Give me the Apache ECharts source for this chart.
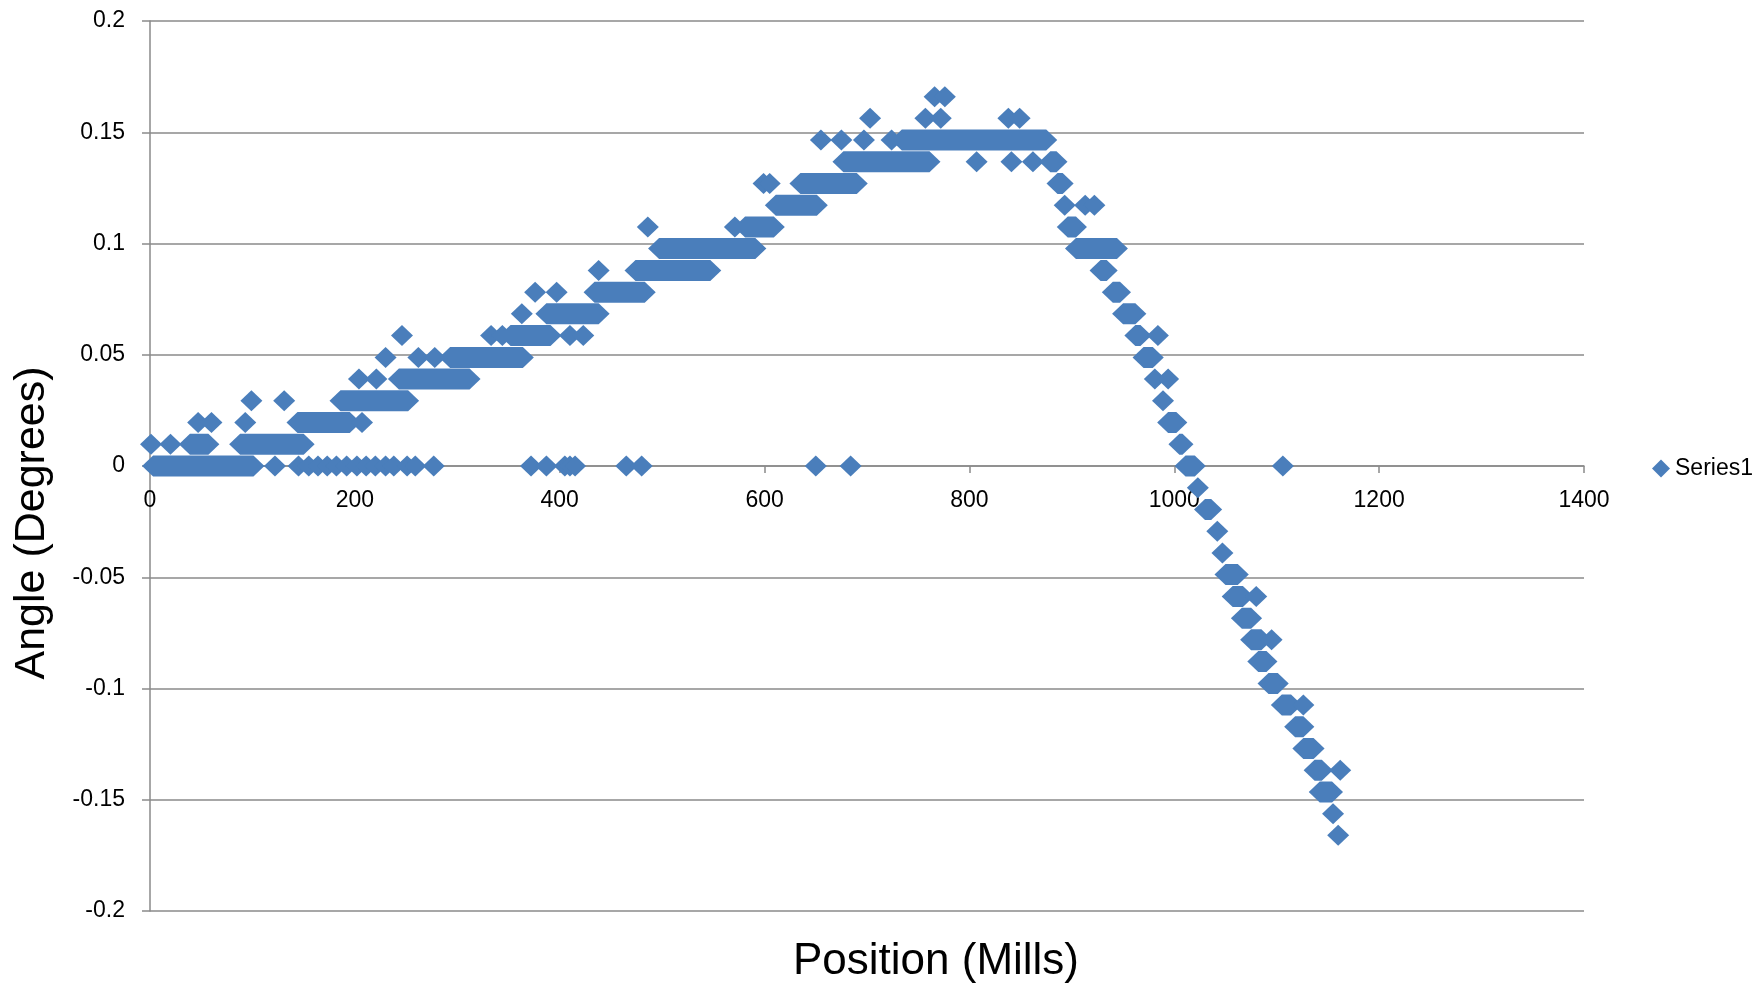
<!DOCTYPE html>
<html>
<head>
<meta charset="utf-8">
<title>Angle vs Position</title>
<script src="https://cdn.jsdelivr.net/npm/echarts@6.0.0/dist/echarts.min.js"></script>
<style>
  html, body { margin: 0; padding: 0; background: #fff; }
  #chart { width: 1758px; height: 987px; }
</style>
</head>
<body>
<div id="chart"></div>
<script>
// readings as [startPosition, endPosition, angle]; start === end is one reading,
// otherwise a run of dense readings at the same angle
var zeroLine = [
  [3, 101, 0], [122, 122, 0],
  [145, 145, 0], [155, 155, 0], [164, 164, 0], [173, 173, 0], [182, 182, 0], [192, 192, 0],
  [202, 202, 0], [211, 211, 0], [220, 220, 0], [230, 230, 0], [238, 238, 0],
  [251, 251, 0], [259, 259, 0], [277, 277, 0],
  [372, 372, 0], [387, 387, 0], [405, 405, 0], [410, 410, 0], [415, 415, 0],
  [465, 465, 0], [480, 480, 0], [650, 650, 0], [684, 684, 0], [1106, 1106, 0]
]

var rising = [
  [1, 1, 0.0098], [20, 20, 0.0098], [39, 57, 0.0098], [88, 150, 0.0098],
  [47, 47, 0.0195], [60, 60, 0.0195], [93, 93, 0.0195], [144, 195, 0.0195], [207, 207, 0.0195],
  [99, 99, 0.0293], [131, 131, 0.0293], [186, 252, 0.0293],
  [204, 204, 0.0391], [221, 221, 0.0391], [243, 312, 0.0391],
  [230, 230, 0.0488], [262, 262, 0.0488], [278, 278, 0.0488], [293, 364, 0.0488],
  [246, 246, 0.0586], [333, 333, 0.0586], [344, 344, 0.0586], [352, 391, 0.0586], [410, 410, 0.0586], [423, 423, 0.0586],
  [363, 363, 0.0684], [387, 438, 0.0684],
  [376, 376, 0.0781], [397, 397, 0.0781], [434, 483, 0.0781],
  [438, 438, 0.0879], [474, 547, 0.0879],
  [497, 591, 0.0977],
  [486, 486, 0.1074], [571, 571, 0.1074], [581, 609, 0.1074],
  [611, 651, 0.1172],
  [599, 599, 0.127], [605, 605, 0.127], [635, 690, 0.127]
]

var plateau = [
  [677, 761, 0.1367], [807, 807, 0.1367], [841, 841, 0.1367], [862, 862, 0.1367], [879, 885, 0.1367],
  [655, 655, 0.1465], [675, 675, 0.1465], [697, 697, 0.1465], [724, 724, 0.1465], [734, 875, 0.1465],
  [703, 703, 0.1563], [757, 757, 0.1563], [772, 772, 0.1563], [838, 838, 0.1563], [849, 849, 0.1563],
  [766, 766, 0.166], [776, 776, 0.166]
]

var falling = [
  [886, 891, 0.127],
  [893, 893, 0.1172], [913, 913, 0.1172], [922, 922, 0.1172],
  [896, 904, 0.1074],
  [904, 944, 0.0977],
  [928, 934, 0.0879],
  [940, 947, 0.0781],
  [950, 962, 0.0684],
  [962, 967, 0.0586], [984, 984, 0.0586],
  [970, 979, 0.0488],
  [981, 981, 0.0391], [994, 994, 0.0391],
  [989, 989, 0.0293],
  [994, 1002, 0.0195],
  [1005, 1008, 0.0098],
  [1011, 1020, 0],
  [1023, 1023, -0.0098],
  [1030, 1036, -0.0195],
  [1042, 1042, -0.0293],
  [1047, 1047, -0.0391],
  [1050, 1062, -0.0488],
  [1057, 1067, -0.0586], [1080, 1080, -0.0586],
  [1066, 1075, -0.0684],
  [1075, 1085, -0.0781], [1095, 1095, -0.0781],
  [1082, 1090, -0.0879],
  [1092, 1101, -0.0977],
  [1105, 1114, -0.1074], [1126, 1126, -0.1074],
  [1118, 1126, -0.1172],
  [1126, 1136, -0.127],
  [1137, 1144, -0.1367], [1162, 1162, -0.1367],
  [1142, 1154, -0.1465],
  [1155, 1155, -0.1563],
  [1160, 1160, -0.166]
]

var seriesName = 'Series1'
var markerColor = '#4a7ebb'
var gridColor = '#8a8a8a'
var fontFamily = '"Liberation Sans", Arial, sans-serif'

var chart = echarts.init(document.getElementById('chart'), null, { renderer: 'canvas' })

// one diamond per reading, stretched into a bar for a run of readings
function renderDiamondRun (params, api) {
  var a = api.coord([api.value(0), api.value(2)])
  var b = api.coord([api.value(1), api.value(2)])
  var hw = 11
  var hh = 10.5
  return {
    type: 'polygon',
    shape: {
      points: [
        [a[0] - hw, a[1]], [a[0], a[1] - hh], [b[0], b[1] - hh],
        [b[0] + hw, b[1]], [b[0], b[1] + hh], [a[0], a[1] + hh]
      ]
    },
    style: { fill: api.visual('color') }
  }
}

chart.setOption({
  animation: false,
  color: [markerColor],
  textStyle: { fontFamily: fontFamily },
  grid: {
    left: 150,
    right: 174,
    top: 21,
    bottom: 76,
    outerBoundsMode: 'none'
  },
  legend: {
    data: [{ name: seriesName, icon: 'diamond' }],
    left: 1647,
    top: 452,
    itemWidth: 18,
    itemHeight: 18,
    textStyle: { fontSize: 23, color: '#000', fontFamily: fontFamily }
  },
  xAxis: {
    type: 'value',
    min: 0,
    max: 1400,
    interval: 200,
    // x axis sits on the zero line, half the plot height above the bottom
    offset: -445,
    name: 'Position (Mills)',
    nameLocation: 'middle',
    nameGap: 474,
    nameTextStyle: { fontSize: 44, color: '#000', fontFamily: fontFamily, padding: [0, 0, 0, 138] },
    axisLine: { onZero: false, lineStyle: { color: gridColor, width: 1.5 } },
    axisTick: { show: true, length: 7, lineStyle: { color: gridColor, width: 1.5 } },
    axisLabel: {
      margin: 23,
      fontSize: 23,
      color: '#000',
      fontFamily: fontFamily,
      formatter: function (v) { return String(v) }
    },
    splitLine: { show: false }
  },
  yAxis: {
    type: 'value',
    min: -0.2,
    max: 0.2,
    interval: 0.05,
    name: 'Angle (Degrees)',
    nameLocation: 'middle',
    nameGap: 96,
    nameTextStyle: { fontSize: 43, color: '#000', fontFamily: fontFamily, padding: [0, 114, 0, 0] },
    axisLine: { show: true, lineStyle: { color: gridColor, width: 1.5 } },
    axisTick: { show: true, length: 8, lineStyle: { color: gridColor, width: 1.5 } },
    axisLabel: { margin: 25, fontSize: 23, color: '#000', fontFamily: fontFamily },
    splitLine: { show: true, lineStyle: { color: gridColor, width: 1.5 } }
  },
  series: [
    {
      name: seriesName,
      type: 'custom',
      renderItem: renderDiamondRun,
      itemStyle: { color: markerColor },
      encode: { x: [0, 1], y: 2 },
      data: zeroLine.concat(rising, plateau, falling)
    }
  ]
})
</script>
</body>
</html>
